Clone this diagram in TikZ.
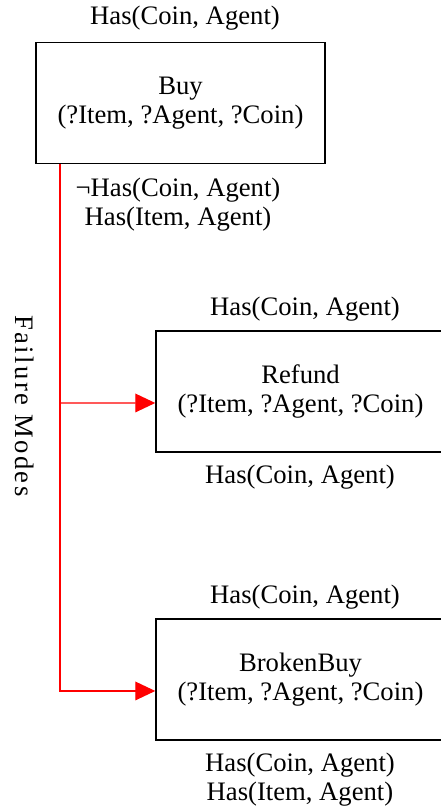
\documentclass[tikz,border=0pt]{standalone}
\usepackage{fontspec}
\setmainfont{Liberation Serif}
\usetikzlibrary{arrows.meta,positioning}

\begin{document}
\begin{tikzpicture}[
					x = 0.75pt, y = -0.75pt,
					every node/.style = {font = \fontsize{20}{21.75}\selectfont, align = center},
					action/.style = {draw, line width = 1.1pt, minimum width = 216.75pt, minimum height = 90.5pt, inner sep = 0pt},
					failure/.style = {red, line width = 1pt, -{Triangle[length = 15pt, width = 14pt]}}]
					\useasboundingbox (0,0) rectangle (441,807);

					\node[action] (buy) at (180.5,103) {Buy\\(?Item, ?Agent, ?Coin)};
					\node[action] (refund) at (300.5,391.5) {Refund\\(?Item, ?Agent, ?Coin)};
					\node[action] (broken) at (300.5,679.5) {BrokenBuy\\(?Item, ?Agent, ?Coin)};

					\node (buypre) at (185,18) {Has(Coin, Agent)};
					\node (buypost) at (178,205) {¬Has(Coin, Agent)\\Has(Item, Agent)};
					\node (refundpre) at (305,309) {Has(Coin, Agent)};
					\node (refundpost) at (300,477) {Has(Coin, Agent)};
					\node (brokenpre) at (305,597) {Has(Coin, Agent)};
					\node (brokenpost) at (300,780) {Has(Coin, Agent)\\Has(Item, Agent)};

					\node[rotate = -90] (modes) at (25,406) {\addfontfeature{LetterSpace = 9}Failure Modes};

					\coordinate (split) at (60,403);
					\draw[failure] (buy.south -| split) -- (split) |- ([yshift = -8.6pt]broken.west);
					\draw[failure] (split) -- ([yshift = -8.6pt]refund.west);

				\end{tikzpicture}
\end{document}
